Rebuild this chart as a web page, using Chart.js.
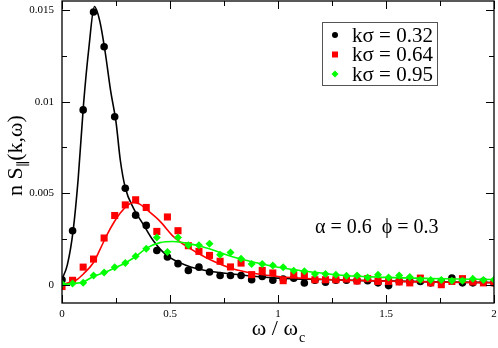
<!DOCTYPE html>
<html>
<head>
<meta charset="utf-8">
<script src="https://cdn.jsdelivr.net/npm/chart.js@4"></script>
<style>
html, body { margin: 0; padding: 0; background: #fff; }
canvas { display: block; }
</style>
</head>
<body>
<canvas id="c" width="498" height="348"></canvas>
<script>
// sampled frequencies (omega / omega_c)
const omega = [0, 0.049, 0.098, 0.146, 0.195, 0.244, 0.293, 0.341, 0.39, 0.439,
  0.488, 0.537, 0.585, 0.634, 0.683, 0.732, 0.78, 0.829, 0.878, 0.927,
  0.976, 1.024, 1.073, 1.122, 1.171, 1.22, 1.268, 1.317, 1.366, 1.415,
  1.463, 1.512, 1.561, 1.61, 1.659, 1.707, 1.756, 1.805, 1.854, 1.902,
  1.951, 2.0];

// simulation points
const k032 = [0.00027, 0.00295, 0.00955, 0.0149, 0.013, 0.00918, 0.00527, 0.0038, 0.00324, 0.00187,
  0.00151, 0.00115, 0.00078, 0.00096, 0.00069, 0.0005, 0.0005, 0.0005, 0.00027, 0.00045,
  0.00024, 0.00031, 0.00035, 0.00009, 0.00024, 0.00013, 0.00024, 0.00024, 0.00022, 0.00022,
  0.0001, -0.00005, 0.00018, 0.00018, 0.00018, 0.0001, 0.00018, 0.00036, 0.0001, 0.0001,
  0.00018, 0.0001];
const k064 = [-0.0001, 0.00024, 0.00096, 0.0014, 0.00255, 0.00378, 0.00436, 0.00464, 0.00422, 0.00291,
  0.0037, 0.00295, 0.00213, 0.00182, 0.0016, 0.00128, 0.00097, 0.00118, 0.00055, 0.00078,
  0.00064, 0.00022, 0.00053, 0.00053, 0.00027, 0.00027, 0.00027, 0.00031, 0.0002, 0.00033,
  0.00018, 0.00018, 0.00015, 0.0001, 0.00036, 0.0001, 0.0, 0.00018, 0.00033, 0.00015,
  0.0001, 0.0001];
const k095 = [0.00005, 0.00006, 0.0001, 0.0005, 0.00067, 0.00095, 0.00118, 0.00155, 0.00196, 0.00258,
  0.00179, 0.00258, 0.00215, 0.00215, 0.00224, 0.00164, 0.00176, 0.00142, 0.00113, 0.00113,
  0.00105, 0.00095, 0.00076, 0.00073, 0.00058, 0.00058, 0.00055, 0.00049, 0.0005, 0.0004,
  0.00055, 0.0004, 0.0005, 0.00042, 0.00027, 0.00026, 0.00026, 0.00022, 0.00022, 0.00033,
  0.00026, 0.00027];

// theory curves
const fitX032 = [0, 0.025, 0.052, 0.075, 0.1, 0.125, 0.15, 0.175, 0.2, 0.225, 0.25, 0.27, 0.293,
  0.33, 0.376, 0.423, 0.485, 0.577, 0.67, 0.8, 0.9, 1.0, 1.2, 1.4, 1.6, 1.8, 2.0];
const fitY032 = [0.0003, 0.0011, 0.003, 0.0058, 0.0099, 0.013, 0.0152, 0.0144, 0.0127, 0.0106, 0.0089, 0.0068, 0.0053,
  0.0042, 0.0033, 0.0024, 0.0016, 0.00105, 0.00076, 0.00057, 0.00045, 0.00036, 0.00028, 0.00022, 0.00018, 0.00014, 0.00012];
const fitX064 = [0, 0.03, 0.068, 0.1, 0.145, 0.175, 0.207, 0.24, 0.269, 0.3, 0.33, 0.36, 0.392,
  0.454, 0.515, 0.577, 0.67, 0.793, 0.9, 1.0, 1.2, 1.4, 1.6, 1.8, 2.0];
const fitY064 = [0, 0.0001, 0.00027, 0.0006, 0.0012, 0.0019, 0.0027, 0.0034, 0.0039, 0.0043, 0.0045, 0.0044, 0.0041,
  0.00346, 0.00264, 0.00209, 0.00146, 0.00086, 0.0006, 0.00045, 0.0003, 0.00022, 0.00017, 0.00013, 0.00011];
const fitX095 = [0, 0.05, 0.099, 0.145, 0.196, 0.245, 0.295, 0.346, 0.392, 0.454, 0.515, 0.577, 0.67,
  0.793, 0.9, 1.0, 1.1, 1.2, 1.31, 1.5, 1.7, 2.0];
const fitY095 = [0.00002, 0.00006, 0.00015, 0.00045, 0.00066, 0.00092, 0.0012, 0.00158, 0.002, 0.0023, 0.00236, 0.00227, 0.002,
  0.00151, 0.0012, 0.00095, 0.00078, 0.00064, 0.0005, 0.0004, 0.00034, 0.00028];

const xMajor = [0, 0.5, 1, 1.5, 2];
const xMinor = [0.25, 0.75, 1.25, 1.75];
const yMajor = [0, 0.005, 0.01, 0.015];
const yMinor = [0.0025, 0.0075, 0.0125];

const legendLabels = ["k\u03c3 = 0.32", "k\u03c3 = 0.64", "k\u03c3 = 0.95"];
const noteText = "\u03b1 = 0.6  \u03d5 = 0.3";

const serif = '"Liberation Serif", "DejaVu Serif", serif';

function pts(xs, ys) {
  return xs.map((x, i) => ({ x: x, y: ys[i] }));
}

function curve(xs, ys, color, order) {
  return {
    data: pts(xs, ys),
    showLine: true,
    borderColor: color,
    borderWidth: 1.6,
    pointRadius: 0,
    cubicInterpolationMode: "monotone",
    order: order,
  };
}

function marks(ys, color, style, r, order) {
  return {
    data: pts(omega, ys),
    showLine: false,
    pointStyle: style,
    pointRadius: r,
    backgroundColor: color,
    borderColor: color,
    borderWidth: 0,
    order: order,
  };
}

const framePlugin = {
  id: "frame",
  afterDraw(chart) {
    const ctx = chart.ctx;
    const a = chart.chartArea;
    const xs = chart.scales.x;
    const ys = chart.scales.y;
    ctx.save();
    ctx.strokeStyle = "#000";
    ctx.lineWidth = 1.3;
    ctx.strokeRect(a.left, a.top, a.right - a.left, a.bottom - a.top);

    ctx.lineWidth = 1;
    ctx.beginPath();
    const tick = (vals, len) => {
      vals.forEach((v) => {
        const px = Math.round(xs.getPixelForValue(v)) + 0.5;
        ctx.moveTo(px, a.bottom); ctx.lineTo(px, a.bottom - len);
        ctx.moveTo(px, a.top); ctx.lineTo(px, a.top + len);
      });
    };
    const tickY = (vals, len) => {
      vals.forEach((v) => {
        const py = Math.round(ys.getPixelForValue(v)) + 0.5;
        ctx.moveTo(a.left, py); ctx.lineTo(a.left + len, py);
        ctx.moveTo(a.right, py); ctx.lineTo(a.right - len, py);
      });
    };
    tick(xMajor, 8); tick(xMinor, 5);
    tickY(yMajor, 8); tickY(yMinor, 5);
    ctx.stroke();

    // axis titles
    ctx.fillStyle = "#000";
    ctx.textBaseline = "alphabetic";
    ctx.font = "22px " + serif;
    const t1 = "\u03c9 / \u03c9";
    const w1 = ctx.measureText(t1).width;
    ctx.font = "14px " + serif;
    const wc = ctx.measureText("c").width;
    let sx = (a.left + a.right) / 2 - (w1 + wc) / 2;
    ctx.font = "22px " + serif;
    ctx.fillText(t1, sx, 335);
    ctx.font = "14px " + serif;
    ctx.fillText("c", sx + w1 + 1, 342);

    ctx.save();
    ctx.translate(22, 196);
    ctx.rotate(-Math.PI / 2);
    ctx.font = "22px " + serif;
    ctx.fillText("n S", 0, 0);
    let off = ctx.measureText("n S").width;
    ctx.font = "14px " + serif;
    ctx.fillText("\u2225", off, 6);
    off += ctx.measureText("\u2225").width;
    ctx.font = "22px " + serif;
    ctx.fillText("(k,\u03c9)", off, 0);
    ctx.restore();

    // legend
    ctx.lineWidth = 1;
    ctx.strokeStyle = "#555";
    ctx.strokeRect(322.5, 22.5, 115, 63);
    const rows = [35, 54.5, 74];
    ctx.textBaseline = "middle";
    ctx.font = "21px " + serif;
    rows.forEach((y, i) => {
      ctx.fillStyle = ["#000", "#ff0000", "#00ff00"][i];
      ctx.beginPath();
      if (i === 0) ctx.arc(335, y, 3, 0, Math.PI * 2);
      if (i === 1) ctx.rect(332, y - 3, 6, 6);
      if (i === 2) {
        ctx.moveTo(335, y - 3.5); ctx.lineTo(338.5, y); ctx.lineTo(335, y + 3.5); ctx.lineTo(331.5, y);
      }
      ctx.fill();
      ctx.fillStyle = "#000";
      ctx.fillText(legendLabels[i], 352, y + 1);
    });

    ctx.font = "20px " + serif;
    ctx.fillText(noteText, 315, 228);
    ctx.restore();
  },
};

new Chart(document.getElementById("c"), {
  type: "scatter",
  data: {
    datasets: [
      marks(k032, "#000000", "circle", 3.8, 6),
      curve(fitX032, fitY032, "#000000", 5),
      marks(k064, "#ff0000", "rect", 5, 4),
      curve(fitX064, fitY064, "#ff0000", 3),
      marks(k095, "#00ff00", "rectRot", 4, 2),
      curve(fitX095, fitY095, "#00ff00", 1),
    ],
  },
  options: {
    responsive: false,
    animation: false,
    layout: { autoPadding: false, padding: { top: 1, right: 4, left: 0, bottom: 0 } },
    plugins: { legend: { display: false }, tooltip: { enabled: false } },
    scales: {
      x: {
        type: "linear",
        min: 0,
        max: 2,
        afterFit: (s) => { s.height = 45; s.paddingLeft = 0; s.paddingRight = 0; },
        afterBuildTicks: (s) => { s.ticks = xMajor.map((v) => ({ value: v })); },
        grid: { display: false, drawTicks: false },
        border: { display: false },
        ticks: {
          padding: 5,
          color: "#000",
          font: { family: serif, size: 11 },
          callback: (v) => String(v),
        },
      },
      y: {
        type: "linear",
        min: -0.001,
        max: 0.0155,
        afterFit: (s) => { s.width = 62; s.paddingTop = 0; s.paddingBottom = 0; },
        afterBuildTicks: (s) => { s.ticks = yMajor.map((v) => ({ value: v })); },
        grid: { display: false, drawTicks: false },
        border: { display: false },
        ticks: {
          padding: 8,
          color: "#000",
          font: { family: serif, size: 11 },
          callback: (v) => String(v),
        },
      },
    },
  },
  plugins: [framePlugin],
});
</script>
</body>
</html>
